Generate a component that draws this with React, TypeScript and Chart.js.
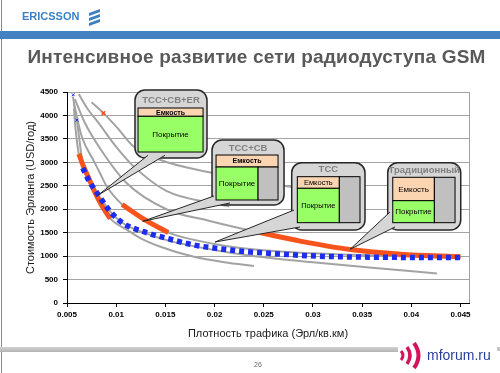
import React, { useEffect, useRef } from "react";
import { Chart, registerables } from "chart.js";

Chart.register(...registerables);

const FONT = "'Liberation Sans', Arial, sans-serif";

// ---------- axis ticks ----------
const xTickValues = [0.005, 0.01, 0.015, 0.02, 0.025, 0.03, 0.035, 0.04, 0.045];
const xMin = 0.005;
const xMax = 0.04586;
const yMin = 0;
const yMax = 4500;
const yStep = 500;

const xTitle = "Плотность трафика (Эрл/кв.км)";
const yTitle = "Стоимость Эрланга (USD/год)";

// ---------- gray cost curves ----------
const gray1X = [0.0057, 0.0059, 0.0062, 0.0067, 0.0073, 0.008, 0.0087, 0.0094, 0.0111, 0.0125, 0.0145, 0.0178, 0.021, 0.024];
const gray1Y = [4150, 3650, 3180, 2900, 2620, 2290, 2020, 1800, 1560, 1380, 1200, 990, 870, 790];

const gray2X = [0.0056, 0.006, 0.0066, 0.0072, 0.0082, 0.0094, 0.0107, 0.0128, 0.0155, 0.02, 0.0233, 0.03, 0.036, 0.0426];
const gray2Y = [4400, 3900, 2980, 2620, 2300, 1950, 1700, 1500, 1320, 1130, 1020, 870, 750, 630];

const gray3X = [0.0057, 0.0065, 0.0078, 0.0084, 0.009, 0.0106, 0.0128, 0.0153, 0.02, 0.0236, 0.03, 0.038, 0.045];
const gray3Y = [4250, 3550, 3000, 2750, 2500, 2100, 1790, 1500, 1260, 1150, 1060, 1000, 965];

const gray4X = [0.0058, 0.0068, 0.00835, 0.011, 0.0151, 0.0195, 0.0246, 0.0287, 0.0338, 0.0389, 0.045];
const gray4Y = [4350, 3850, 3300, 2570, 2000, 1750, 1500, 1320, 1140, 1040, 985];

const gray5X = [0.0062, 0.007, 0.00835, 0.01, 0.0117, 0.0151, 0.0197, 0.0215];
const gray5Y = [4450, 4170, 3800, 3330, 2930, 2390, 2130, 2060];

const gray6X = [0.0075, 0.0087, 0.0101, 0.0117, 0.0145, 0.0192, 0.027, 0.033];
const gray6Y = [4280, 4050, 3740, 3350, 3050, 2800, 2500, 2350];

// ---------- orange optimal segments ----------
const orange1X = [0.0062, 0.0067, 0.0073, 0.008, 0.0087, 0.0094];
const orange1Y = [3180, 2900, 2620, 2290, 2020, 1800];

const orange2X = [0.0106, 0.0128, 0.0153];
const orange2Y = [2100, 1790, 1500];

const orange3X = [0.0246, 0.0287, 0.0338, 0.0389, 0.045];
const orange3Y = [1500, 1320, 1140, 1040, 985];

const orangeDotX = [0.0087];
const orangeDotY = [4050];

// ---------- blue envelope ----------
const blueX = [0.0066, 0.0072, 0.0082, 0.0094, 0.0107, 0.0128, 0.0155, 0.0178, 0.0202, 0.0233, 0.027, 0.0304, 0.0372, 0.045];
const blueY = [2880, 2620, 2300, 1950, 1700, 1520, 1360, 1240, 1165, 1095, 1040, 1000, 975, 970];

const blueMarkX = [0.00564, 0.006];
const blueMarkY = [4440, 3900];

// ---------- callouts (positions in data units) ----------
type Callout = {
  title: string;
  box: number[];
  inner: number[];
  split: number;
  grayFrom: number | null;
  stripFull: boolean;
  titleY: number;
  tip: number[];
  base: number[][];
  capFont: string;
  covFont: string;
};

const callouts: Callout[] = [
  {
    title: "TCC+CB+ER",
    box: [0.01191, 0.01923, 4543, 3092],
    inner: [0.01222, 0.01883, 4159, 3220],
    split: 3982,
    grayFrom: null,
    stripFull: true,
    titleY: 4319,
    tip: [0.00818, 2303],
    base: [[0.01323, 3150], [0.01496, 3150]],
    capFont: "bold 7px " + FONT,
    covFont: "8px " + FONT,
  },
  {
    title: "TCC+CB",
    box: [0.01974, 0.02706, 3476, 2090],
    inner: [0.02015, 0.02645, 3156, 2197],
    split: 2900,
    grayFrom: 0.02442,
    stripFull: true,
    titleY: 3305,
    tip: [0.0127, 1742],
    base: [[0.01994, 2282], [0.02157, 2133]],
    capFont: "bold 7px " + FONT,
    covFont: "8px " + FONT,
  },
  {
    title: "TCC",
    box: [0.02784, 0.03529, 2992, 1557],
    inner: [0.02841, 0.03478, 2694, 1713],
    split: 2446,
    grayFrom: 0.03268,
    stripFull: false,
    titleY: 2851,
    tip: [0.02005, 1301],
    base: [[0.02808, 1983], [0.02869, 1621]],
    capFont: "7.5px " + FONT,
    covFont: "7.5px " + FONT,
  },
  {
    title: "Традиционный",
    box: [0.0376, 0.04502, 2992, 1557],
    inner: [0.03811, 0.04444, 2681, 1713],
    split: 2182,
    grayFrom: 0.04234,
    stripFull: false,
    titleY: 2822,
    tip: [0.03377, 1145],
    base: [[0.03783, 1941], [0.03834, 1621]],
    capFont: "8px " + FONT,
    covFont: "8px " + FONT,
  },
];

const zip = (xs: number[], ys: number[]) => xs.map((x, i) => ({ x, y: ys[i] }));

function roundRectPath(ctx: CanvasRenderingContext2D, l: number, t: number, r: number, b: number, rad: number) {
  ctx.beginPath();
  ctx.moveTo(l + rad, t);
  ctx.lineTo(r - rad, t);
  ctx.arcTo(r, t, r, t + rad, rad);
  ctx.lineTo(r, b - rad);
  ctx.arcTo(r, b, r - rad, b, rad);
  ctx.lineTo(l + rad, b);
  ctx.arcTo(l, b, l, b - rad, rad);
  ctx.lineTo(l, t + rad);
  ctx.arcTo(l, t, l + rad, t, rad);
  ctx.closePath();
}

const calloutPlugin = {
  id: "callouts",
  beforeDatasetsDraw(chart: any) {
    const { ctx, chartArea } = chart;
    ctx.save();
    ctx.strokeStyle = "#a0a0a0";
    ctx.lineWidth = 1;
    const rx = Math.round(chartArea.right) + 0.5;
    ctx.beginPath();
    ctx.moveTo(rx, chartArea.top);
    ctx.lineTo(rx, chartArea.bottom);
    ctx.stroke();
    ctx.restore();
  },
  afterDatasetsDraw(chart: any) {
    const { ctx } = chart;
    const xs = chart.scales.x;
    const ys = chart.scales.y;
    const X = (v: number) => xs.getPixelForValue(v);
    const Y = (v: number) => ys.getPixelForValue(v);
    ctx.save();
    for (const c of callouts) {
      const L = X(c.box[0]), R = X(c.box[1]), T = Y(c.box[2]), B = Y(c.box[3]);
      const bg = "#d6d6d6";
      const edge = "#262626";
      roundRectPath(ctx, L, T, R, B, 10);
      ctx.fillStyle = bg;
      ctx.fill();
      ctx.strokeStyle = edge;
      ctx.lineWidth = 1.5;
      ctx.stroke();

      const tx = X(c.tip[0]), ty = Y(c.tip[1]);
      const b1x = X(c.base[0][0]), b1y = Y(c.base[0][1]);
      const b2x = X(c.base[1][0]), b2y = Y(c.base[1][1]);
      ctx.beginPath();
      ctx.moveTo(b1x, b1y);
      ctx.lineTo(tx, ty);
      ctx.lineTo(b2x, b2y);
      ctx.closePath();
      ctx.fillStyle = bg;
      ctx.fill();
      ctx.beginPath();
      ctx.moveTo(b1x, b1y);
      ctx.lineTo(tx, ty);
      ctx.lineTo(b2x, b2y);
      ctx.strokeStyle = edge;
      ctx.lineWidth = 1;
      ctx.stroke();

      const il = X(c.inner[0]), ir = X(c.inner[1]), it = Y(c.inner[2]), ib = Y(c.inner[3]);
      const sp = Y(c.split);
      const gx = c.grayFrom !== null ? X(c.grayFrom) : ir;
      const stripR = c.stripFull ? ir : gx;
      ctx.lineWidth = 1;
      ctx.strokeStyle = "#000";
      ctx.fillStyle = "#fbd4b2";
      ctx.fillRect(il, it, stripR - il, sp - it);
      ctx.strokeRect(il, it, stripR - il, sp - it);
      ctx.fillStyle = "#99ff66";
      ctx.fillRect(il, sp, gx - il, ib - sp);
      ctx.strokeRect(il, sp, gx - il, ib - sp);
      if (c.grayFrom !== null) {
        const gt = c.stripFull ? sp : it;
        ctx.fillStyle = "#c0c0c0";
        ctx.fillRect(gx, gt, ir - gx, ib - gt);
        ctx.strokeRect(gx, gt, ir - gx, ib - gt);
      }
      ctx.fillStyle = "#000";
      ctx.textAlign = "center";
      ctx.textBaseline = "middle";
      ctx.font = c.capFont;
      ctx.fillText("Емкость", (il + stripR) / 2, (it + sp) / 2 + 0.5);
      ctx.font = c.covFont;
      ctx.fillText("Покрытие", (il + gx) / 2, (sp + ib) / 2 + 0.5);
      ctx.fillStyle = "#808080";
      ctx.font = "bold 9.5px " + FONT;
      ctx.fillText(c.title, (L + R) / 2, Y(c.titleY));
    }
    ctx.restore();
  },
};

export default function App() {
  const ref = useRef<HTMLCanvasElement>(null);

  useEffect(() => {
    if (!ref.current) return;
    const grayStyle = {
      showLine: true,
      borderColor: "#a3a3a3",
      borderWidth: 2,
      pointRadius: 0,
      cubicInterpolationMode: "monotone" as const,
      order: 3,
    };
    const orangeStyle = {
      showLine: true,
      borderColor: "#f7531c",
      borderWidth: 5,
      pointRadius: 0,
      borderCapStyle: "butt" as const,
      cubicInterpolationMode: "monotone" as const,
      order: 2,
    };
    const chart = new Chart(ref.current, {
      type: "scatter",
      data: {
        datasets: [
          {
            data: zip(blueX, blueY),
            showLine: true,
            borderColor: "#1c2cf0",
            borderWidth: 5.5,
            borderDash: [5, 4],
            borderCapStyle: "butt",
            pointRadius: 0,
            cubicInterpolationMode: "monotone",
            order: 0,
          },
          {
            data: zip(blueMarkX, blueMarkY),
            showLine: false,
            pointStyle: "crossRot",
            pointRadius: 2,
            borderColor: "#1c2cf0",
            borderWidth: 1,
            order: 0,
          },
          { data: zip(orange1X, orange1Y), ...orangeStyle },
          { data: zip(orange2X, orange2Y), ...orangeStyle },
          { data: zip(orange3X, orange3Y), ...orangeStyle },
          {
            data: zip(orangeDotX, orangeDotY),
            showLine: false,
            pointStyle: "crossRot",
            pointRadius: 2.5,
            borderColor: "#f7531c",
            borderWidth: 1.5,
            order: 1,
          },
          { data: zip(gray1X, gray1Y), ...grayStyle },
          { data: zip(gray2X, gray2Y), ...grayStyle },
          { data: zip(gray3X, gray3Y), ...grayStyle },
          { data: zip(gray4X, gray4Y), ...grayStyle },
          { data: zip(gray5X, gray5Y), ...grayStyle },
          { data: zip(gray6X, gray6Y), ...grayStyle },
        ] as any,
      },
      options: {
        animation: false,
        responsive: false,
        maintainAspectRatio: false,
        devicePixelRatio: 1,
        layout: { padding: { left: 0, top: 92, right: 31, bottom: 0 } },
        plugins: { legend: { display: false }, tooltip: { enabled: false } },
        scales: {
          x: {
            type: "linear",
            min: xMin,
            max: xMax,
            afterBuildTicks: (s: any) => {
              s.ticks = xTickValues.map((v) => ({ value: v }));
            },
            afterFit: (s: any) => {
              s.height = 70;
            },
            ticks: {
              font: { size: 8, weight: "bold", family: FONT },
              color: "#000",
              padding: 3,
              maxRotation: 0,
              autoSkip: false,
              callback: (v: any) => String(v),
            },
            grid: { drawOnChartArea: false, tickLength: 4, tickColor: "#000" },
            border: { color: "#000", width: 1 },
            title: {
              display: true,
              text: xTitle,
              font: { size: 11, family: FONT },
              color: "#1a1a1a",
              padding: { top: 0, bottom: 32.4 },
            },
          },
          y: {
            type: "linear",
            min: yMin,
            max: yMax,
            afterFit: (s: any) => {
              s.width = 67;
            },
            ticks: {
              stepSize: yStep,
              font: { size: 8, weight: "bold", family: FONT },
              color: "#000",
              padding: 5,
              callback: (v: any) => String(v),
            },
            grid: { color: "#a3a3a3", tickLength: 4, tickColor: "#000" },
            border: { color: "#000", width: 1 },
            title: {
              display: true,
              text: yTitle,
              font: { size: 11, family: FONT },
              color: "#1a1a1a",
              padding: { top: 24, bottom: 0 },
            },
          },
        },
      } as any,
      plugins: [calloutPlugin],
    });
    return () => chart.destroy();
  }, []);

  return (
    <div
      style={{
        position: "absolute",
        left: 0,
        top: 0,
        width: 500,
        height: 373,
        background: "#fff",
        overflow: "hidden",
        fontFamily: FONT,
      }}
    >
      <canvas ref={ref} width={500} height={373} style={{ position: "absolute", left: 0, top: 0, width: 500, height: 373 }} />
      <div style={{ position: "absolute", left: 1, top: 0, width: 1, height: 373, background: "#8a8a8a" }} />
      <div
        style={{
          position: "absolute",
          left: 22,
          top: 11.4,
          fontSize: 11,
          lineHeight: "11px",
          fontWeight: "bold",
          color: "#3d7fc1",
          whiteSpace: "nowrap",
        }}
      >
        ERICSSON
      </div>
      <svg style={{ position: "absolute", left: 87, top: 8 }} width={15} height={18} viewBox="0 0 15 18">
        <polygon points="2,5 13,1 13,4 2,8" fill="#3d7fc1" />
        <polygon points="2,10 13,6 13,9 2,13" fill="#3d7fc1" />
        <polygon points="2,15 13,11 13,14 2,18" fill="#3d7fc1" />
      </svg>
      <div style={{ position: "absolute", left: 0, top: 31, width: 500, height: 8, background: "#4581c0" }} />
      <div
        style={{
          position: "absolute",
          left: 0,
          width: 513,
          top: 47,
          fontSize: 19,
          lineHeight: "19px",
          letterSpacing: "0.2px",
          fontWeight: "bold",
          color: "#595959",
          textAlign: "center",
          whiteSpace: "nowrap",
        }}
      >
        Интенсивное развитие сети радиодуступа GSM
      </div>
      <div
        style={{
          position: "absolute",
          left: 0,
          top: 347,
          width: 398,
          height: 5,
          background: "linear-gradient(#d2d2d2, #b4b4b4)",
        }}
      />
      <div style={{ position: "absolute", left: 497, top: 347, width: 3, height: 4, background: "#c4c4c4" }} />
      <div
        style={{
          position: "absolute",
          left: 208,
          width: 100,
          top: 361.4,
          fontSize: 7,
          lineHeight: "7px",
          color: "#666",
          textAlign: "center",
        }}
      >
        26
      </div>
      <svg style={{ position: "absolute", left: 398, top: 342 }} width={28} height={27} viewBox="0 0 28 27">
        <path d="M3,9 Q7,13.5 3,18" stroke="#d4145a" strokeWidth={3} fill="none" />
        <path d="M9,5 Q15,13.5 9,22" stroke="#d4145a" strokeWidth={3.5} fill="none" />
        <path d="M16,1 Q25,13.5 16,26" stroke="#d4145a" strokeWidth={4} fill="none" />
      </svg>
      <div
        style={{
          position: "absolute",
          left: 427,
          top: 348,
          fontSize: 14,
          lineHeight: "14px",
          color: "#2a3e9a",
          whiteSpace: "nowrap",
        }}
      >
        mforum.ru
      </div>
    </div>
  );
}
